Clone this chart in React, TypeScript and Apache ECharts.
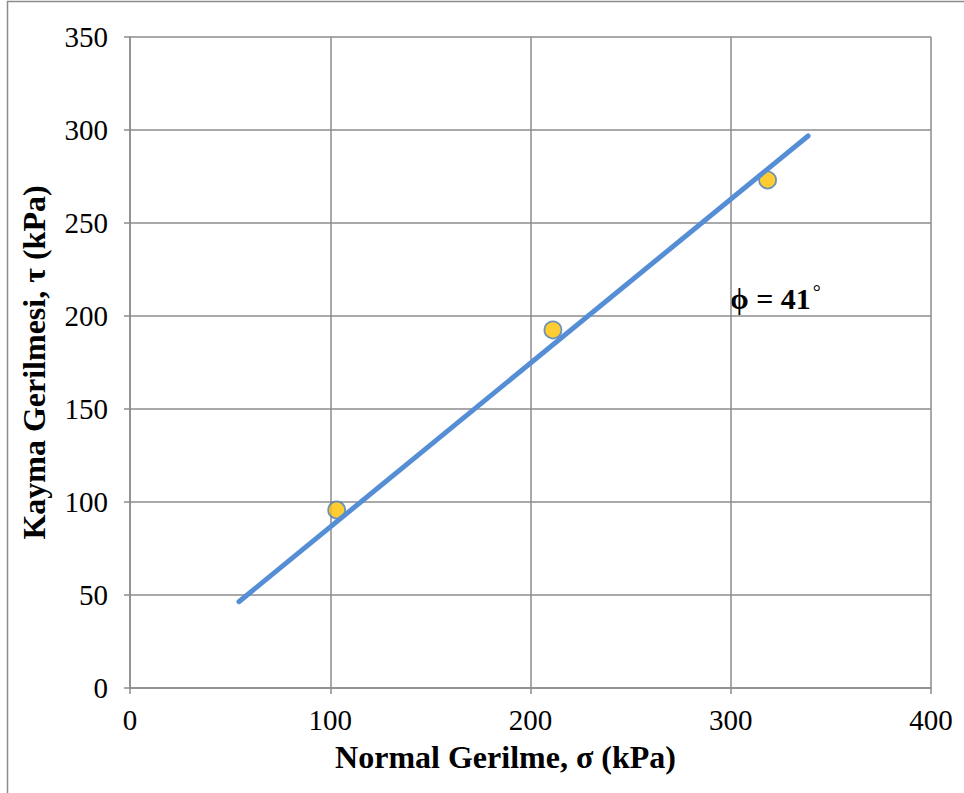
import React, { useEffect, useRef } from "react";
import * as echarts from "echarts";

const xTicks = [0, 100, 200, 300, 400];
const yTicks = [0, 50, 100, 150, 200, 250, 300, 350];
const normalStress = [103.2, 211.2, 318.4];
const shearStress = [95.7, 192.5, 273.1];
const fitLineX = [54.4, 338.6];
const fitLineY = [46.4, 296.8];
const annotation = "ϕ = 41";
const xTitle = "Normal Gerilme, σ (kPa)";
const yTitle = "Kayma Gerilmesi, τ (kPa)";

const FONT = "'Liberation Serif', 'DejaVu Serif', serif";

export default function App() {
  const ref = useRef<HTMLDivElement>(null);
  useEffect(() => {
    if (!ref.current) return;
    const chart = echarts.init(ref.current, undefined, { renderer: "svg" });
    const gridColor = "#8c8c8c";
    chart.setOption({
      animation: false,
      backgroundColor: "#ffffff",
      grid: { left: 130, right: 33, top: 37, bottom: 105 },
      xAxis: {
        type: "value",
        min: xTicks[0],
        max: xTicks[xTicks.length - 1],
        interval: 100,
        name: xTitle,
        nameLocation: "middle",
        nameGap: 53,
        nameTextStyle: { fontFamily: FONT, fontSize: 32, fontWeight: "bold", color: "#000", padding: [0, 50, 0, 0] },
        axisLine: { show: true, lineStyle: { color: gridColor, width: 1.5 } },
        axisTick: { show: true, length: 6, lineStyle: { color: gridColor, width: 1.5 } },
        axisLabel: { fontFamily: FONT, fontSize: 29, color: "#000", margin: 17 },
        splitLine: { show: true, lineStyle: { color: gridColor, width: 1.5 } },
      },
      yAxis: {
        type: "value",
        min: yTicks[0],
        max: yTicks[yTicks.length - 1],
        interval: 50,
        name: yTitle,
        nameLocation: "middle",
        nameGap: 80,
        nameRotate: 90,
        nameTextStyle: { fontFamily: FONT, fontSize: 32, fontWeight: "bold", color: "#000" },
        axisLine: { show: true, lineStyle: { color: gridColor, width: 1.5 } },
        axisTick: { show: true, length: 6, lineStyle: { color: gridColor, width: 1.5 } },
        axisLabel: { fontFamily: FONT, fontSize: 29, color: "#000", margin: 22 },
        splitLine: { show: true, lineStyle: { color: gridColor, width: 1.5 } },
      },
      series: [
        {
          type: "line",
          data: fitLineX.map((x, i) => [x, fitLineY[i]]),
          symbol: "none",
          lineStyle: { color: "#558ed5", width: 5, cap: "round" },
          z: 3,
        },
        {
          type: "scatter",
          data: normalStress.map((x, i) => [x, shearStress[i]]),
          symbol: "circle",
          symbolSize: 17,
          itemStyle: { color: "#ffc000", borderColor: "#4a7ebb", borderWidth: 1.8 },
          z: 2,
        },
      ],
      graphic: [
        {
          type: "rect",
          shape: { x: 7.5, y: 1.5, width: 2000, height: 2000 },
          style: { fill: "none", stroke: "#8c8c8c", lineWidth: 1.5 },
          silent: true,
        },
        {
          type: "text",
          left: 730,
          top: 282,
          style: {
            text: "{a|" + annotation + "}{b|°}",
            rich: {
              a: { fontFamily: FONT, fontSize: 30, fontWeight: "bold", fill: "#000" },
              b: { fontFamily: FONT, fontSize: 20, fill: "#000", verticalAlign: "top", padding: [0, 0, 12, 2] },
            },
          },
        },
      ],
    });
    return () => chart.dispose();
  }, []);
  return (
    <div
      ref={ref}
      style={{ position: "absolute", left: 0, top: 0, width: 964, height: 793 }}
    />
  );
}
